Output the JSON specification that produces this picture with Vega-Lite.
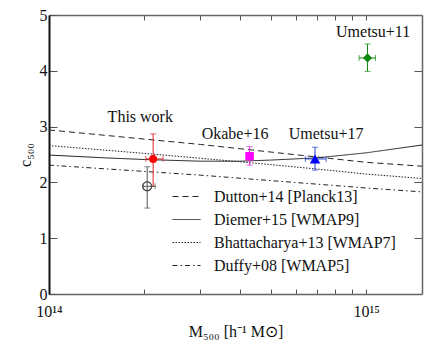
{
  "$schema": "https://vega.github.io/schema/vega-lite/v6.json",
  "width": 373,
  "height": 279,
  "autosize": "none",
  "padding": {"left": 49, "top": 15, "right": 24, "bottom": 56},
  "background": "white",
  "config": {
    "font": "Liberation Serif",
    "view": {"stroke": null},
    "axis": {"grid": false, "labelFont": "Liberation Serif", "titleFont": "Liberation Serif", "labelFontSize": 16, "titleFontSize": 16, "titleFontWeight": "normal", "labelColor": "#111", "titleColor": "#111", "domainColor": "#666", "domainWidth": 1.5, "tickColor": "#555", "tickWidth": 1}
  },
  "datasets": {
    "models": [
      {"model": "Dutton+14 [Planck13]", "M": 1e14, "c": 2.94},
      {"model": "Dutton+14 [Planck13]", "M": 3e14, "c": 2.68},
      {"model": "Dutton+14 [Planck13]", "M": 1e15, "c": 2.36},
      {"model": "Dutton+14 [Planck13]", "M": 1.5e15, "c": 2.29},
      {"model": "Diemer+15 [WMAP9]", "M": 1e14, "c": 2.49},
      {"model": "Diemer+15 [WMAP9]", "M": 1.5e14, "c": 2.44},
      {"model": "Diemer+15 [WMAP9]", "M": 2e14, "c": 2.41},
      {"model": "Diemer+15 [WMAP9]", "M": 3e14, "c": 2.38},
      {"model": "Diemer+15 [WMAP9]", "M": 4e14, "c": 2.38},
      {"model": "Diemer+15 [WMAP9]", "M": 5e14, "c": 2.40},
      {"model": "Diemer+15 [WMAP9]", "M": 7e14, "c": 2.44},
      {"model": "Diemer+15 [WMAP9]", "M": 1e15, "c": 2.53},
      {"model": "Diemer+15 [WMAP9]", "M": 1.5e15, "c": 2.67},
      {"model": "Bhattacharya+13 [WMAP7]", "M": 1e14, "c": 2.66},
      {"model": "Bhattacharya+13 [WMAP7]", "M": 2e14, "c": 2.52},
      {"model": "Bhattacharya+13 [WMAP7]", "M": 4e14, "c": 2.37},
      {"model": "Bhattacharya+13 [WMAP7]", "M": 7e14, "c": 2.24},
      {"model": "Bhattacharya+13 [WMAP7]", "M": 1e15, "c": 2.15},
      {"model": "Bhattacharya+13 [WMAP7]", "M": 1.5e15, "c": 2.07},
      {"model": "Duffy+08 [WMAP5]", "M": 1e14, "c": 2.31},
      {"model": "Duffy+08 [WMAP5]", "M": 3e14, "c": 2.13},
      {"model": "Duffy+08 [WMAP5]", "M": 1e15, "c": 1.90},
      {"model": "Duffy+08 [WMAP5]", "M": 1.5e15, "c": 1.83}
    ],
    "obs": [
      {"name": "Open", "M": 2.04e14, "c": 1.93, "Mlo": 1.98e14, "Mhi": 2.16e14, "clo": 1.54, "chi": 2.28, "col": "#4a4a4a", "ecol": "#555555", "shape": "circle", "size": 80},
      {"name": "This work", "M": 2.13e14, "c": 2.42, "Mlo": 2.02e14, "Mhi": 2.29e14, "clo": 1.93, "chi": 2.87, "col": "#ff0000", "ecol": "#e02525", "shape": "circle", "size": 64},
      {"name": "Okabe+16", "M": 4.29e14, "c": 2.47, "Mlo": 4.18e14, "Mhi": 4.4e14, "clo": 2.31, "chi": 2.64, "col": "#ff00ff", "ecol": "#e020e0", "shape": "square", "size": 70},
      {"name": "Umetsu+17", "M": 6.9e14, "c": 2.42, "Mlo": 6.43e14, "Mhi": 7.48e14, "clo": 2.22, "chi": 2.63, "col": "#0000ff", "ecol": "#2040d0", "shape": "triangle-up", "size": 110},
      {"name": "Umetsu+11", "M": 1.01e15, "c": 4.23, "Mlo": 9.5e14, "Mhi": 1.07e15, "clo": 3.99, "chi": 4.48, "col": "#118811", "ecol": "#118811", "shape": "diamond", "size": 85}
    ],
    "labels": [
      {"text": "This work", "M": 1.94e14, "c": 3.17},
      {"text": "Okabe+16", "M": 3.86e14, "c": 2.87},
      {"text": "Umetsu+17", "M": 7.48e14, "c": 2.87},
      {"text": "Umetsu+11", "M": 1.052e15, "c": 4.7}
    ]
  },
  "layer": [
    {
      "data": {"name": "models"},
      "mark": {"type": "line", "color": "#222", "strokeWidth": 1, "clip": true},
      "encoding": {
        "x": {"field": "M", "type": "quantitative", "scale": {"type": "log", "domain": [1e14, 1.5e15], "nice": false},
          "axis": {"orient": "bottom", "values": [1e14, 2e14, 3e14, 4e14, 5e14, 6e14, 7e14, 8e14, 9e14, 1e15], "tickSize": -5, "labelPadding": 14, "labelFlush": false, "labelOverlap": false,
            "labelExpr": "datum.value < 1.5e14 ? '10¹⁴' : (datum.value > 9.5e14 ? '10¹⁵' : '')", "title": "M₅₀₀  [h⁻¹ M⊙]", "titlePadding": 4}},
        "y": {"field": "c", "type": "quantitative", "scale": {"domain": [0, 5], "nice": false},
          "axis": {"orient": "left", "values": [0, 1, 2, 3, 4, 5], "tickSize": -8, "labelPadding": 10, "domainColor": "#111", "domainWidth": 2, "title": "c₅₀₀", "titlePadding": 6}},
        "strokeDash": {"field": "model", "type": "nominal",
          "scale": {"domain": ["Dutton+14 [Planck13]", "Diemer+15 [WMAP9]", "Bhattacharya+13 [WMAP7]", "Duffy+08 [WMAP5]"], "range": [[6, 4], [1, 0], [1.5, 1.5], [5, 3, 1.5, 3]]},
          "legend": {"orient": "none", "legendX": 123, "legendY": 167, "title": null, "padding": 0, "labelFont": "Liberation Serif", "labelFontSize": 16, "labelColor": "#111", "labelLimit": 400, "symbolType": "stroke", "symbolSize": 784, "symbolStrokeWidth": 1, "symbolStrokeColor": "#222", "rowPadding": -3, "labelOffset": 13}}
      }
    },
    {
      "data": {"name": "obs"},
      "mark": {"type": "errorbar", "ticks": {"size": 6}, "rule": {"strokeWidth": 1}},
      "encoding": {
        "x": {"field": "M", "type": "quantitative", "axis": {"orient": "top", "values": [2e14, 3e14, 4e14, 5e14, 6e14, 7e14, 8e14, 9e14, 1e15], "tickSize": -5, "labels": false, "title": null}},
        "y": {"field": "clo", "type": "quantitative", "axis": {"orient": "right", "values": [1, 2, 3, 4], "tickSize": -8, "labels": false, "title": null}},
        "y2": {"field": "chi"},
        "color": {"field": "ecol", "type": "nominal", "scale": null}
      }
    },
    {
      "data": {"name": "obs"},
      "mark": {"type": "errorbar", "ticks": {"size": 6}, "rule": {"strokeWidth": 1}},
      "encoding": {
        "y": {"field": "c", "type": "quantitative", "axis": null},
        "x": {"field": "Mlo", "type": "quantitative", "axis": null},
        "x2": {"field": "Mhi"},
        "color": {"field": "ecol", "type": "nominal", "scale": null}
      }
    },
    {
      "data": {"name": "obs"},
      "transform": [{"filter": "datum.name != 'Open'"}],
      "mark": {"type": "point", "filled": true, "opacity": 1},
      "encoding": {
        "x": {"field": "M", "type": "quantitative", "axis": null},
        "y": {"field": "c", "type": "quantitative", "axis": null},
        "color": {"field": "col", "type": "nominal", "scale": null},
        "shape": {"field": "shape", "type": "nominal", "scale": null},
        "size": {"field": "size", "type": "quantitative", "scale": null}
      }
    },
    {
      "data": {"name": "obs"},
      "transform": [{"filter": "datum.name == 'Open'"}],
      "mark": {"type": "point", "filled": false, "shape": "circle", "size": 80, "strokeWidth": 1.2, "color": "#444", "opacity": 1},
      "encoding": {
        "x": {"field": "M", "type": "quantitative", "axis": null},
        "y": {"field": "c", "type": "quantitative", "axis": null}
      }
    },
    {
      "data": {"name": "labels"},
      "mark": {"type": "text", "font": "Liberation Serif", "fontSize": 16, "color": "#111", "align": "center", "baseline": "middle"},
      "encoding": {
        "x": {"field": "M", "type": "quantitative", "axis": null},
        "y": {"field": "c", "type": "quantitative", "axis": null},
        "text": {"field": "text"}
      }
    }
  ],
  "resolve": {"axis": {"x": "independent", "y": "independent"}}
}
